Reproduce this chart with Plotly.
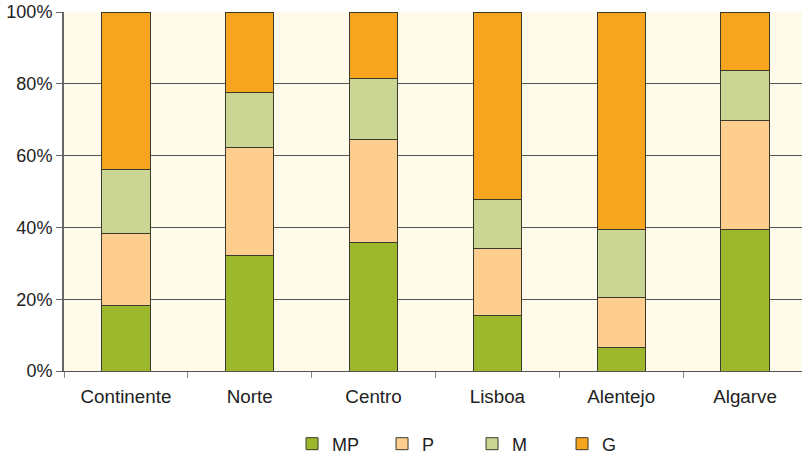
import plotly.graph_objects as go

categories = ["Continente", "Norte", "Centro", "Lisboa", "Alentejo", "Algarve"]
mp = [18.2, 32.1, 35.7, 15.4, 6.5, 39.3]
p = [20.2, 30.1, 28.7, 18.8, 14.1, 30.6]
m = [17.8, 15.4, 17.1, 13.6, 18.7, 13.7]
g = [43.8, 22.4, 18.5, 52.2, 60.7, 16.4]
series_names = ["MP", "P", "M", "G"]
series_values = [mp, p, m, g]
colors = ["#9DB82C", "#FDCE8F", "#CBD695", "#F7A51E"]
y_ticks = [0, 20, 40, 60, 80, 100]
y_tick_labels = ["0%", "20%", "40%", "60%", "80%", "100%"]

fig = go.Figure()
for name, vals, col in zip(series_names, series_values, colors):
    fig.add_trace(go.Bar(
        x=categories, y=vals, name=name,
        marker=dict(color=col, line=dict(color="#3a3a2a", width=1)),
    ))

fig.update_layout(
    barmode="stack",
    bargap=0.61,
    width=802, height=456,
    margin=dict(l=64, r=0, t=12, b=85, autoexpand=False),
    paper_bgcolor="white",
    plot_bgcolor="#FFFBEA",
    font=dict(family="Liberation Sans", size=18, color="#222222"),
    showlegend=True,
    legend=dict(
        orientation="h", x=0.309, xanchor="left",
        yref="container", y=1 - 444 / 456, yanchor="middle",
        entrywidth=45, entrywidthmode="pixels",
        traceorder="normal",
        font=dict(size=18),
    ),
    xaxis=dict(
        range=[-0.5, 5.46],
        automargin=False,
        showline=True, linecolor="#555555", linewidth=1,
        ticks="outside", tickson="boundaries", ticklen=6, tickcolor="#888888",
        ticklabelstandoff=8,
        tickfont=dict(size=18.8),
        showgrid=False,
    ),
    yaxis=dict(
        range=[0, 100],
        automargin=False,
        tickvals=y_ticks, ticktext=y_tick_labels,
        showline=True, linecolor="#666666", linewidth=2,
        ticks="outside", ticklen=6, tickcolor="#666666",
        showgrid=True, gridcolor="#555555", gridwidth=1,
        zeroline=False,
    ),
)

fig.write_html("out.html", config={"displayModeBar": False},
               post_script="document.body.style.margin='0';")
